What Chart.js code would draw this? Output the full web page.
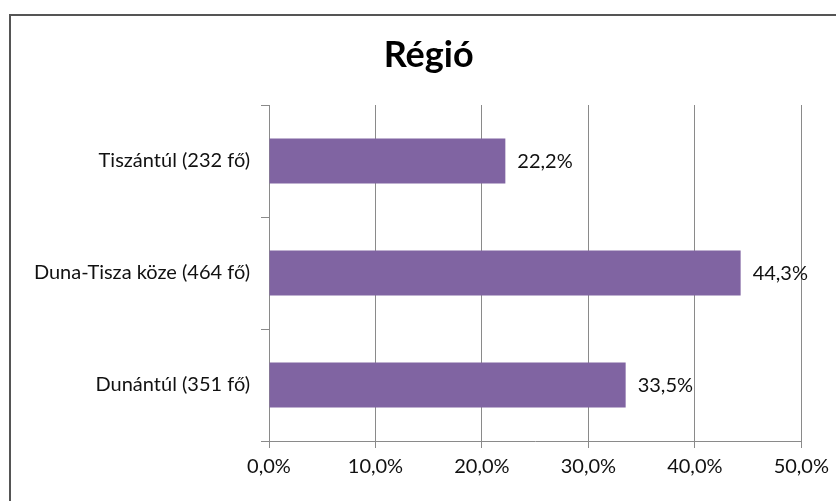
<!DOCTYPE html>
<html lang="hu">
<head>
    <meta charset="utf-8">
    <style>
        body { margin: 0; background: #fff; overflow: hidden; }
        #wrap { position: relative; width: 836px; height: 501px; }
        /* frame of the original chart object, cut off at right and bottom */
        #frame { position: absolute; left: 9px; top: 14px; width: 900px; height: 600px; border: 2px solid #555; box-sizing: border-box; }
    </style>
</head>
<body>
    <div id="wrap">
        <div id="frame"></div>
        <canvas id="RegioChart" width="836" height="501" style="position: absolute; left: 0; top: 0;"></canvas>
    </div>

    <script src="https://cdn.jsdelivr.net/npm/chart.js"></script>
    <script>
        // Data
        const chartTitle = 'Régió';
        const categories = ['Tiszántúl (232 fő)', 'Duna-Tisza köze (464 fő)', 'Dunántúl (351 fő)'];
        const shares = [22.2, 44.3, 33.5];
        const axisTicks = [0, 10, 20, 30, 40, 50];

        const fontName = 'Lato, "Open Sans", sans-serif';

        // Hungarian style percent: 22,2%
        function formatPercent(v) {
            return v.toFixed(1).replace('.', ',') + '%';
        }

        // Title is drawn by hand: the original is not centred on the canvas
        const titleText = {
            id: 'titleText',
            afterDraw(chart) {
                const ctx = chart.ctx;
                ctx.save();
                ctx.font = 'bold 36px ' + fontName;
                ctx.fillStyle = '#000';
                ctx.textAlign = 'center';
                ctx.textBaseline = 'middle';
                ctx.fillText(chartTitle, (56 + chart.chartArea.right) / 2, 55);
                ctx.restore();
            }
        };

        // Draw value labels right of each bar
        const valueLabels = {
            id: 'valueLabels',
            afterDatasetsDraw(chart) {
                const ctx = chart.ctx;
                const meta = chart.getDatasetMeta(0);
                ctx.save();
                ctx.font = '20px ' + fontName;
                ctx.fillStyle = '#111';
                ctx.textAlign = 'left';
                ctx.textBaseline = 'middle';
                meta.data.forEach((bar, i) => {
                    ctx.fillText(formatPercent(shares[i]), bar.x + 12, bar.y + 1);
                });
                ctx.restore();
            }
        };

        const ctx = document.getElementById('RegioChart').getContext('2d');
        const myChart = new Chart(ctx, {
            type: 'bar',
            data: {
                labels: categories,
                datasets: [{
                    data: shares,
                    backgroundColor: '#8064A2',
                    borderWidth: 0,
                    barPercentage: 0.8,
                    categoryPercentage: 0.5,
                }],
            },
            options: {
                indexAxis: 'y',
                responsive: false,
                animation: false,
                layout: {
                    padding: { left: 0, right: 29, top: 105, bottom: 0 }
                },
                plugins: {
                    legend: { display: false },
                    tooltip: { enabled: false },
                    title: { display: false }
                },
                scales: {
                    x: {
                        min: axisTicks[0],
                        max: axisTicks[axisTicks.length - 1],
                        afterFit(scale) { scale.height = 60; },
                        afterBuildTicks(scale) {
                            scale.ticks = axisTicks.map(v => ({ value: v }));
                        },
                        ticks: {
                            padding: 7,
                            color: '#111',
                            font: { family: fontName, size: 20 },
                            callback: v => formatPercent(v)
                        },
                        grid: {
                            color: '#8a8a8a',
                            lineWidth: 1,
                            tickLength: 7
                        },
                        border: { color: '#8a8a8a', width: 1 }
                    },
                    y: {
                        afterFit(scale) { scale.width = 269; },
                        ticks: {
                            padding: 11,
                            color: '#111',
                            font: { family: fontName, size: 20 }
                        },
                        grid: {
                            offset: true,
                            drawOnChartArea: false,
                            color: '#8a8a8a',
                            tickLength: 8
                        },
                        border: { color: '#8a8a8a', width: 1 }
                    }
                }
            },
            plugins: [valueLabels, titleText]
        });
    </script>
</body>
</html>
